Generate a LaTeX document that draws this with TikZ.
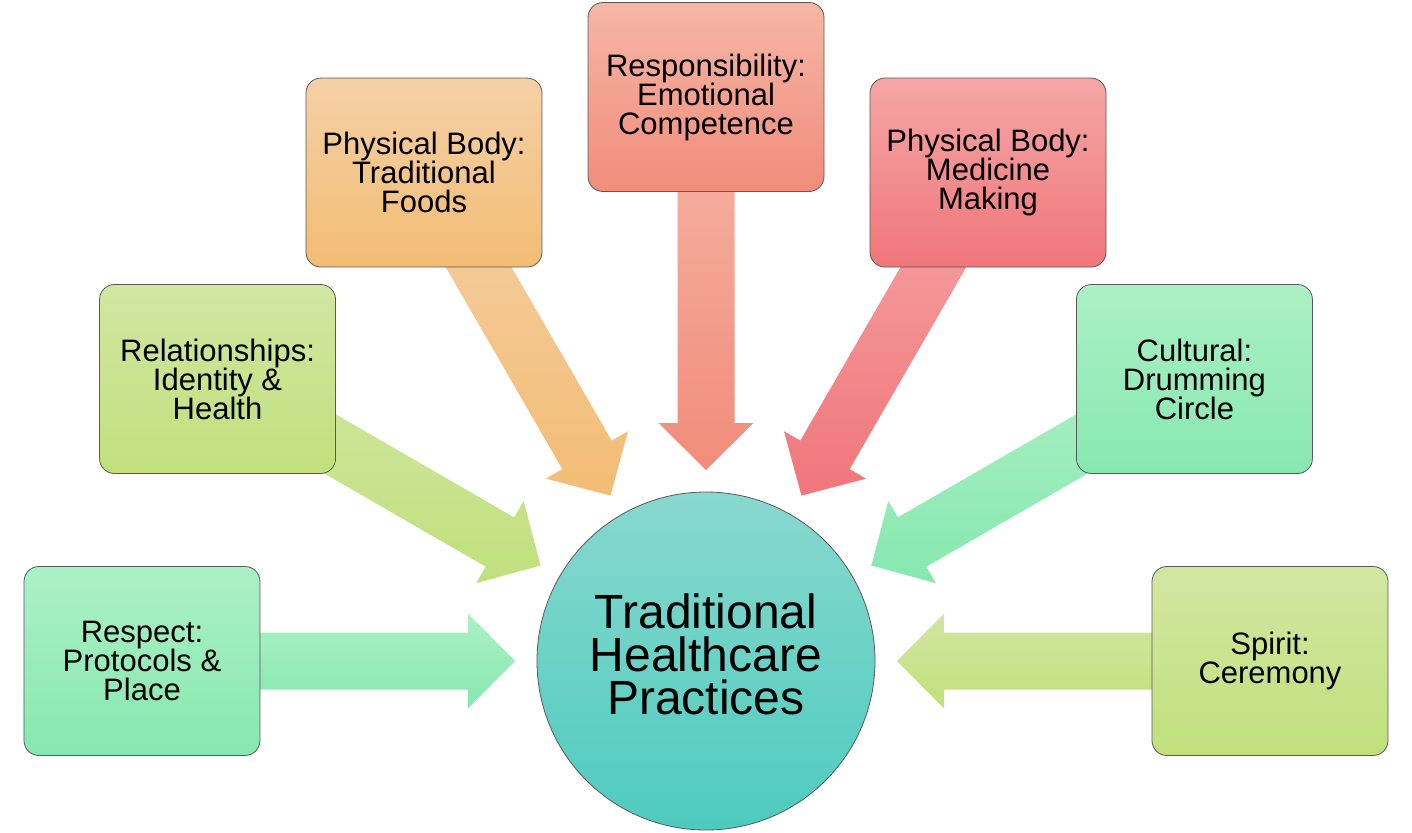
\documentclass[tikz,border=0pt]{standalone}
\usepackage{fontspec}
\setmainfont{Liberation Sans}
\usetikzlibrary{calc}
\pgfdeclarelayer{background}
\pgfsetlayers{background,main}

\definecolor{mintTop}{RGB}{172,240,198}
\definecolor{mintBot}{RGB}{134,232,174}
\definecolor{limeTop}{RGB}{210,230,162}
\definecolor{limeBot}{RGB}{192,224,124}
\definecolor{sandTop}{RGB}{245,208,166}
\definecolor{sandBot}{RGB}{242,188,116}
\definecolor{coralTop}{RGB}{245,182,166}
\definecolor{coralBot}{RGB}{241,140,122}
\definecolor{roseTop}{RGB}{245,166,166}
\definecolor{roseBot}{RGB}{240,118,122}
\definecolor{tealTop}{RGB}{136,216,206}
\definecolor{tealBot}{RGB}{78,203,190}

% block arrow from a box to the hub
\newcommand\spoke[2]{%
  \path[top color=#2Top, bottom color=#2Bot]
    let \p1 = ($(#1.center)-(hub.center)$), \n1 = {atan2(\y1,\x1)} in
    ($(hub.center)+(\n1:191)$)
    -- ($(hub.center)+(\n1:238)+({\n1+90}:47.5)$)
    -- ($(hub.center)+(\n1:238)+({\n1+90}:28.5)$)
    -- ($(#1.center)+({\n1+90}:28.5)$)
    -- ($(#1.center)+({\n1-90}:28.5)$)
    -- ($(hub.center)+(\n1:238)+({\n1-90}:28.5)$)
    -- ($(hub.center)+(\n1:238)+({\n1-90}:47.5)$)
    -- cycle;
}

\begin{document}
\begin{tikzpicture}
  [x=0.5pt, y=0.5pt,
   box/.style={draw=black!65, line width=0.4pt, rounded corners=7.5pt,
     minimum width=118pt, minimum height=94.5pt, align=center,
     font=\fontsize{15.5}{14.5}\selectfont, top color=#1Top, bottom color=#1Bot}]
  \useasboundingbox (-706,-171) rectangle (706,661);
  \node[circle, draw=black!65, line width=0.4pt, minimum size=169pt, inner sep=0pt,
    top color=tealTop, bottom color=tealBot] (hub) at (0,0) {};
  \node[align=center, font=\fontsize{24}{21.5}\selectfont] (hubtext) at (0,7)
    {Traditional\\Healthcare\\Practices};
  \node[box=mint] (respect) at (180:564) {Respect:\\Protocols \&\\Place};
  \node[box=lime] (relation) at (150:564) {Relationships:\\Identity \&\\Health};
  \node[box=sand] (foods) at (120:564) {Physical Body:\\Traditional\\Foods};
  \node[box=coral] (respons) at (90:564) {Responsibility:\\Emotional\\Competence};
  \node[box=rose] (medicine) at (60:564) {Physical Body:\\Medicine\\Making};
  \node[box=mint] (cultural) at (30:564) {Cultural:\\Drumming\\Circle};
  \node[box=lime] (spirit) at (0:564) {Spirit:\\Ceremony};
  \begin{pgfonlayer}{background}
    \spoke{respect}{mint}
    \spoke{relation}{lime}
    \spoke{foods}{sand}
    \spoke{respons}{coral}
    \spoke{medicine}{rose}
    \spoke{cultural}{mint}
    \spoke{spirit}{lime}
  \end{pgfonlayer}
\end{tikzpicture}
\end{document}
